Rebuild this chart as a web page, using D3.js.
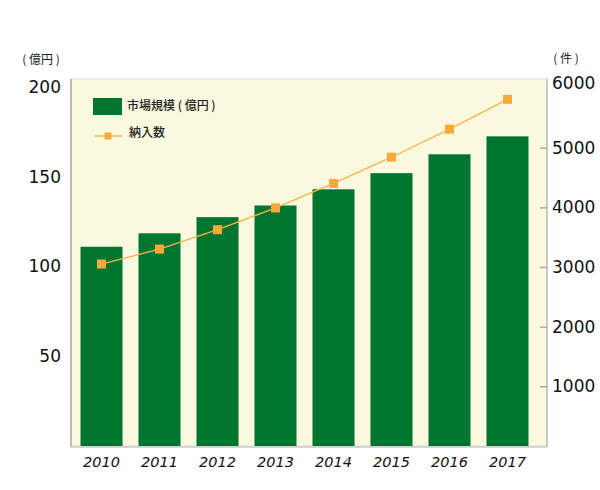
<!DOCTYPE html>
<html><head><meta charset="utf-8">
<script src="https://cdn.jsdelivr.net/npm/d3@7"></script>
<style>body{margin:0;background:#fff}svg{display:block}</style>
</head><body><svg id="c" width="600" height="490"></svg>
<script>
const years = ["2010","2011","2012","2013","2014","2015","2016","2017"];
const marketSize = [111, 118.5, 127.5, 134, 143, 152, 162.5, 172.5];
const deliveries = [3050, 3300, 3625, 3990, 4400, 4840, 5310, 5810];
const leftTicks = [50, 100, 150, 200];
const rightTicks = [1000, 2000, 3000, 4000, 5000, 6000];
const barLabel = "市場規模 ( 億円 )";
const lineLabel = "納入数";
const leftUnit = "( 億円 )";
const rightUnit = "( 件 )";

const svg = d3.select("#c");
const L = 71, R = 547, T = 79, B = 446;
const font = "DejaVu Sans, Verdana, sans-serif";
const cjk = "Noto Sans CJK JP, sans-serif";

const x = d3.scaleBand().domain(years).range([71, 538]).paddingInner(0.276).paddingOuter(0.164);
const yL = d3.scaleLinear().domain([0, 200]).range([B, 87]);
const yR = d3.scaleLinear().domain([0, 6000]).range([B, 88]);

// plot background
svg.append("rect").attr("x", L).attr("y", T).attr("width", R - L).attr("height", B - T)
  .attr("fill", "#FAF8DE").attr("stroke", "#dedede").attr("stroke-width", 1);

// bars
svg.append("g").selectAll("rect").data(years).join("rect")
  .attr("x", d => x(d)).attr("width", x.bandwidth())
  .attr("y", (d, i) => yL(marketSize[i])).attr("height", (d, i) => B - yL(marketSize[i]))
  .attr("fill", "#00752F");

// line
const line = d3.line().x((d, i) => x(years[i]) + x.bandwidth() / 2).y(d => yR(d));
svg.append("path").datum(deliveries).attr("d", line).attr("fill", "none")
  .attr("stroke", "#F5B448").attr("stroke-width", 1.3);
svg.append("g").selectAll("rect").data(deliveries).join("rect")
  .attr("x", (d, i) => x(years[i]) + x.bandwidth() / 2 - 4.5)
  .attr("y", d => yR(d) - 4.5).attr("width", 9).attr("height", 9)
  .attr("fill", "#F7A93A");

// axes lines
svg.append("line").attr("x1", L).attr("x2", L).attr("y1", T).attr("y2", B + 1)
  .attr("stroke", "#bbbbbb").attr("stroke-width", 2);
svg.append("line").attr("x1", L).attr("x2", R).attr("y1", B + 1).attr("y2", B + 1)
  .attr("stroke", "#c8c8c8").attr("stroke-width", 1.5);
svg.append("line").attr("x1", R).attr("x2", R).attr("y1", T).attr("y2", B + 1)
  .attr("stroke", "#bbbbbb").attr("stroke-width", 1.5);

// left axis
const axL = svg.append("g").attr("transform", `translate(${L - 10},0)`)
  .call(d3.axisLeft(yL).tickValues(leftTicks).tickSize(0).tickPadding(0));
axL.select(".domain").remove();
axL.selectAll("text").attr("font-family", font).attr("font-size", 17).attr("fill", "#111");

// right axis
const axR = svg.append("g").attr("transform", `translate(${R},0)`)
  .call(d3.axisRight(yR).tickValues(rightTicks).tickFormat(d3.format("d")).tickSize(-7).tickPadding(5));
axR.select(".domain").remove();
axR.selectAll("line").attr("stroke", "#aaaaaa").attr("stroke-width", 1.5);
axR.selectAll("text").attr("font-family", font).attr("font-size", 17).attr("fill", "#111");
axR.selectAll(".tick").filter(d => d === 6000).select("line").remove();
axR.selectAll(".tick").filter(d => d === 6000).select("text").attr("dy", "0.05em");

// bottom axis
const axB = svg.append("g").attr("transform", `translate(0,${B + 5})`)
  .call(d3.axisBottom(x).tickSize(0).tickPadding(6));
axB.select(".domain").remove();
axB.selectAll("text").attr("font-family", font).attr("font-size", 14.5)
  .attr("font-style", "italic").attr("fill", "#111");

// units
svg.append("text").attr("x", 41).attr("y", 61).attr("text-anchor", "middle").attr("dominant-baseline", "middle")
  .attr("font-family", cjk).attr("font-size", 12).attr("fill", "#222").text(leftUnit);
svg.append("text").attr("x", 566).attr("y", 60).attr("text-anchor", "middle").attr("dominant-baseline", "middle")
  .attr("font-family", cjk).attr("font-size", 12).attr("fill", "#222").text(rightUnit);

// legend
const lg = svg.append("g");
lg.append("rect").attr("x", 93).attr("y", 98).attr("width", 29).attr("height", 17).attr("fill", "#00752F");
lg.append("text").attr("x", 127).attr("y", 107).attr("dominant-baseline", "middle")
  .attr("font-family", cjk).attr("font-size", 12).attr("font-weight", 500)
  .attr("fill", "#222").text(barLabel);
lg.append("line").attr("x1", 95).attr("x2", 122).attr("y1", 136).attr("y2", 136)
  .attr("stroke", "#F5B448").attr("stroke-width", 1.3);
lg.append("rect").attr("x", 104.5).attr("y", 132.5).attr("width", 7).attr("height", 7).attr("fill", "#F7A93A");
lg.append("text").attr("x", 129).attr("y", 134).attr("dominant-baseline", "middle")
  .attr("font-family", cjk).attr("font-size", 12).attr("font-weight", 500)
  .attr("fill", "#222").text(lineLabel);
</script></body></html>
